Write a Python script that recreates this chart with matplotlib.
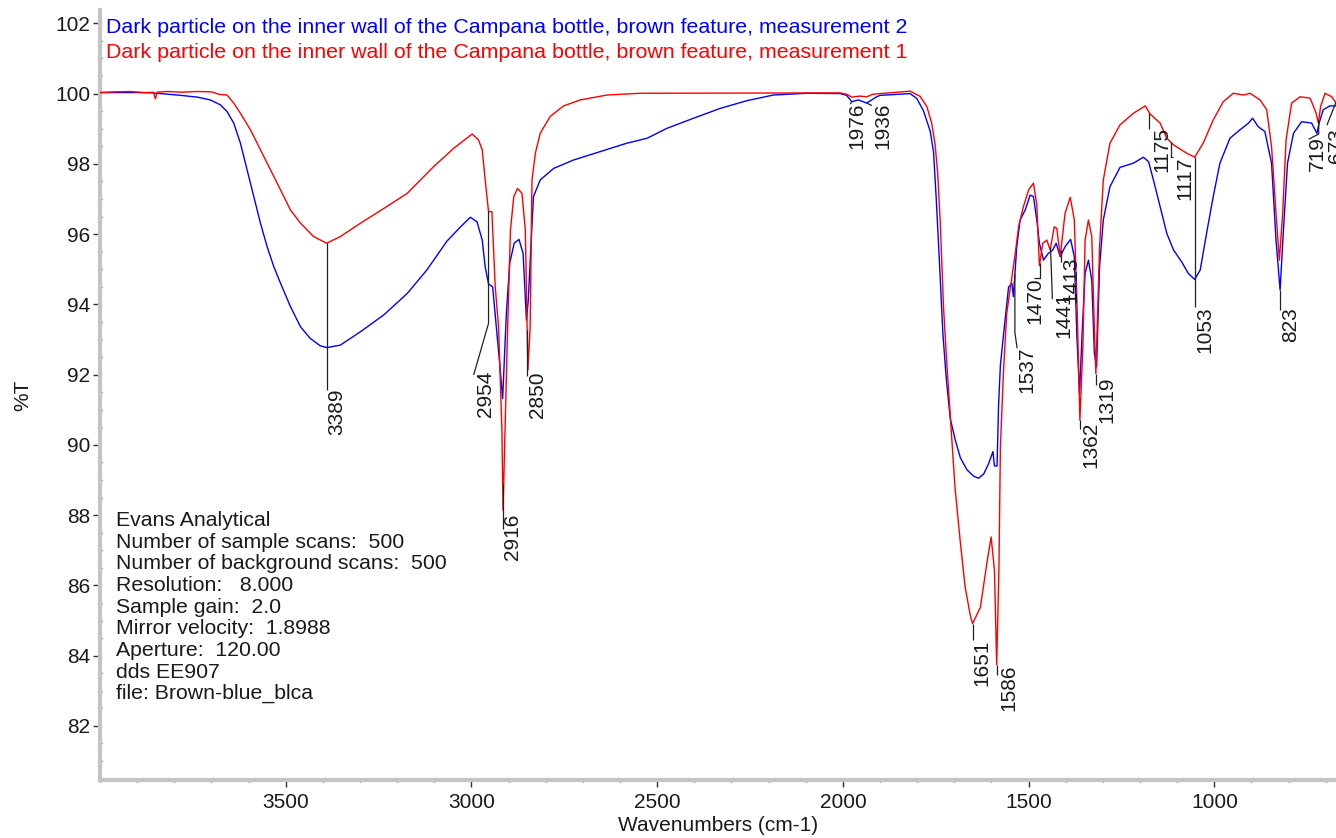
import numpy as np
import matplotlib
matplotlib.use("Agg")
import matplotlib.pyplot as plt
from matplotlib.ticker import MultipleLocator, FixedLocator

plt.rcParams['font.family'] = ['Liberation Sans', 'DejaVu Sans']

# ---- spectrum: measurement 2 (blue) ----
m2_wn = [4000, 3900, 3860, 3792, 3738, 3703, 3676, 3658, 3640, 3622, 3604, 3586,
         3568, 3550, 3532, 3514, 3487, 3460, 3434, 3407, 3389, 3353, 3299, 3236,
         3173, 3120, 3066, 3030, 3003, 2985, 2971, 2963, 2954, 2943, 2933, 2924,
         2916, 2906, 2897, 2885, 2872, 2861, 2852, 2847, 2840, 2833, 2815, 2779,
         2725, 2653, 2581, 2527, 2474, 2402, 2330, 2258, 2187, 2097, 2007, 1990,
         1976, 1958, 1936, 1909, 1900, 1819, 1801, 1783, 1765, 1756, 1749, 1740,
         1731, 1722, 1711, 1698, 1684, 1666, 1648, 1635, 1621, 1608, 1596, 1592,
         1585, 1581, 1576, 1567, 1554, 1545, 1541, 1532, 1523, 1509, 1496, 1487,
         1478, 1471, 1460, 1447, 1435, 1426, 1415, 1402, 1387, 1377, 1370, 1363,
         1356, 1348, 1339, 1330, 1323, 1317, 1309, 1299, 1281, 1254, 1218, 1191,
         1177, 1164, 1146, 1128, 1110, 1088, 1070, 1053, 1038, 1021, 1003, 985,
         958, 931, 908, 897, 882, 864, 846, 834, 823, 814, 803, 787, 765, 738,
         724, 718, 707, 689, 672]
m2_t = [100.03, 100.03, 100.02, 99.96, 99.90, 99.82, 99.68, 99.49, 99.16, 98.59, 97.83, 97.07,
        96.31, 95.64, 95.07, 94.60, 93.93, 93.36, 93.03, 92.82, 92.77, 92.84, 93.22, 93.70,
        94.31, 94.98, 95.80, 96.20, 96.48, 96.35, 95.83, 95.07, 94.58, 94.50, 93.36, 92.32,
        91.32, 93.74, 95.17, 95.74, 95.85, 95.45, 93.55, 94.12, 95.64, 97.07, 97.54, 97.87,
        98.11, 98.35, 98.59, 98.73, 99.01, 99.30, 99.58, 99.80, 99.96, 100.01, 100.00, 99.95,
        99.77, 99.82, 99.73, 99.91, 99.95, 100.00, 99.86, 99.51, 98.93, 98.34, 97.06, 95.19,
        93.20, 91.92, 90.75, 90.16, 89.64, 89.29, 89.11, 89.05, 89.17, 89.46, 89.81, 89.40,
        89.40, 91.10, 92.27, 93.20, 94.49, 94.60, 94.22, 95.64, 96.40, 96.69, 97.11, 97.07,
        96.40, 95.74, 95.26, 95.45, 95.55, 95.74, 95.36, 95.64, 95.85, 95.36, 93.08, 91.46,
        93.17, 94.88, 95.26, 94.69, 92.60, 92.22, 95.07, 96.40, 97.35, 97.90, 98.02, 98.19,
        98.06, 97.54, 96.78, 96.02, 95.55, 95.21, 94.88, 94.71, 94.98, 96.02, 97.07, 98.02,
        98.73, 98.97, 99.16, 99.30, 99.06, 98.92, 98.02, 95.83, 94.41, 96.12, 98.02, 98.87,
        99.20, 99.16, 98.87, 99.16, 99.54, 99.65, 99.65]

# ---- spectrum: measurement 1 (red) ----
m1_wn = [4000, 3960, 3920, 3880, 3856, 3851, 3846, 3820, 3780, 3740, 3700, 3680,
         3658, 3640, 3622, 3595, 3568, 3541, 3514, 3487, 3460, 3425, 3390, 3353,
         3299, 3236, 3173, 3102, 3048, 2998, 2981, 2971, 2963, 2954, 2945, 2936,
         2927, 2918, 2915, 2904, 2895, 2886, 2876, 2864, 2855, 2848, 2842, 2837,
         2828, 2815, 2788, 2752, 2707, 2635, 2545, 2007, 1990, 1976, 1955, 1935,
         1920, 1900, 1819, 1792, 1774, 1761, 1752, 1745, 1738, 1729, 1720, 1709,
         1698, 1684, 1671, 1657, 1651, 1630, 1612, 1601, 1592, 1586, 1580, 1576,
         1568, 1559, 1545, 1536, 1527, 1514, 1500, 1487, 1478, 1471, 1462, 1451,
         1442, 1431, 1424, 1415, 1402, 1388, 1377, 1369, 1362, 1354, 1348, 1339,
         1330, 1323, 1319, 1309, 1299, 1281, 1254, 1218, 1186, 1173, 1146, 1128,
         1110, 1074, 1053, 1030, 1003, 976, 949, 922, 904, 877, 859, 846, 834, 825,
         816, 807, 792, 769, 742, 726, 720, 714, 702, 684, 672]
m1_t = [100.03, 100.05, 100.06, 100.03, 100.04, 99.85, 100.04, 100.06, 100.04, 100.06, 100.05, 99.98,
        99.96, 99.73, 99.44, 98.97, 98.40, 97.83, 97.26, 96.68, 96.31, 95.93, 95.74, 95.93,
        96.31, 96.73, 97.16, 97.92, 98.44, 98.85, 98.68, 98.40, 97.54, 96.64, 96.64, 94.50,
        93.36, 90.42, 88.14, 92.79, 96.12, 97.07, 97.30, 97.16, 96.12, 92.13, 93.36, 97.54,
        98.30, 98.87, 99.35, 99.65, 99.82, 99.96, 100.01, 100.02, 99.98, 99.90, 99.93, 99.91,
        99.98, 100.00, 100.07, 99.92, 99.63, 99.16, 98.57, 97.76, 96.36, 93.90, 92.27, 90.51,
        88.76, 87.24, 85.96, 85.14, 84.91, 85.37, 86.66, 87.38, 86.43, 83.74, 86.43, 89.93,
        92.03, 93.74, 94.79, 95.45, 96.21, 96.78, 97.26, 97.45, 96.83, 95.10, 95.74, 95.83,
        95.55, 96.21, 96.16, 95.36, 96.59, 97.05, 96.40, 93.74, 90.70, 92.79, 95.83, 96.40,
        95.93, 93.27, 92.03, 95.64, 97.54, 98.59, 99.11, 99.44, 99.65, 99.42, 99.16, 98.73,
        98.54, 98.30, 98.19, 98.59, 99.25, 99.77, 100.01, 99.96, 100.01, 99.82, 99.54, 98.49, 96.59, 95.26,
        96.59, 98.68, 99.73, 99.91, 99.87, 99.44, 99.16, 99.63, 100.01, 99.91, 99.73]

# ---- axis ticks ----
x_major_ticks = [3500, 3000, 2500, 2000, 1500, 1000]
y_major_ticks = [82, 84, 86, 88, 90, 92, 94, 96, 98, 100, 102]

# ---- peak picks ----
peak_labels = [3389, 2954, 2916, 2850, 1976, 1936, 1651, 1586, 1537, 1470,
               1441, 1413, 1362, 1319, 1175, 1117, 1053, 823, 719, 673]
peak_source = ['m1', 'm1', 'm1', 'm1', 'm2', 'm2', 'm1', 'm1', 'm2', 'm1',
               'm1', 'm1', 'm1', 'm1', 'm1', 'm1', 'm1', 'm2', 'm1', 'm1']

series_names = ["Dark particle on the inner wall of the Campana bottle, brown feature, measurement 2",
                "Dark particle on the inner wall of the Campana bottle, brown feature, measurement 1"]

info_lines = ["Evans Analytical",
              "Number of sample scans:  500",
              "Number of background scans:  500",
              "Resolution:   8.000",
              "Sample gain:  2.0",
              "Mirror velocity:  1.8988",
              "Aperture:  120.00",
              "dds EE907",
              "file: Brown-blue_blca"]

# label placement: bend level, leader end (wn, %T), text top-left corner (wn, %T)
label_layout = {
    3389: (None, (3389, 91.55), (3389, 91.60)),
    2954: (93.46, (2994, 91.99), (2988, 92.10)),
    2916: (None, (2916, 87.60), (2914, 88.05)),
    2850: (None, (2850, 91.95), (2849, 92.10)),
    1976: (None, (1980, 99.70), (1988, 99.74)),
    1936: (None, (1922, 99.66), (1919, 99.76)),
    1651: (None, (1651, 84.44), (1651, 84.46)),
    1586: (None, (1586, 83.45), (1580, 83.76)),
    1537: (93.20, (1531, 92.75), (1529, 92.80)),
    1470: (94.74, (1485, 94.74), (1509, 94.78)),
    1441: (None, (1436, 94.15), (1431, 94.38)),
    1413: (None, (1413, 95.22), (1412, 95.36)),
    1362: (None, (1362, 90.45), (1357, 90.66)),
    1319: (None, (1319, 91.70), (1316, 91.95)),
    1175: (None, (1175, 99.00), (1168, 99.05)),
    1117: (98.20, (1110, 98.20), (1105, 98.20)),
    1053: (None, (1053, 93.93), (1052, 93.93)),
    823:  (None, (823, 93.84), (821, 93.92)),
    719:  (98.85, (746, 98.70), (747, 98.80)),
    673:  (None, (697, 99.10), (698, 99.03)),
}

W, H = 1336, 838
fig = plt.figure(figsize=(W / 100, H / 100), dpi=100)
ax = fig.add_axes([100 / W, 58 / H, 1236 / W, 770 / H])

ax.plot(m2_wn, m2_t, color='#0000ff', lw=1.0, zorder=3)
ax.plot(m1_wn, m1_t, color='#ff0000', lw=1.0, zorder=4)

ax.set_xlim(4000, 672.5)
ax.set_ylim(80.46, 102.38)

ax.xaxis.set_major_locator(FixedLocator(x_major_ticks))
ax.xaxis.set_minor_locator(MultipleLocator(100))
ax.yaxis.set_major_locator(FixedLocator(y_major_ticks))
ax.yaxis.set_minor_locator(MultipleLocator(0.5))

for side in ('top', 'right'):
    ax.spines[side].set_visible(False)
for side in ('left', 'bottom'):
    ax.spines[side].set_color('#c4c4c4')
    ax.spines[side].set_linewidth(3.0)

ax.tick_params(which='major', direction='out', length=5, width=1.0,
               color='#303030', labelsize=15, labelcolor='#1a1a1a', pad=2)
ax.tick_params(which='minor', direction='inout', length=3.5, width=1.0, color='#303030')
ax.tick_params(axis='x', which='major', pad=4)

ax.set_xlabel("Wavenumbers (cm-1)", fontsize=15, color='#1a1a1a', labelpad=3)
ax.set_ylabel("%T", fontsize=15, color='#1a1a1a')
ax.yaxis.set_label_coords(-68 / 1236, 0.5)

# series captions
for i, (name, col) in enumerate(zip(series_names, ['#0000ff', '#ff0000'])):
    ax.annotate(name, xy=(0, 1), xycoords='axes fraction',
                xytext=(4, -16.5 - i * 18.2), textcoords='offset points',
                ha='left', va='baseline', fontsize=15.4, color=col)

# acquisition details
for i, line in enumerate(info_lines):
    ax.annotate(line, xy=(0, 0), xycoords='axes fraction',
                xytext=(11.5, 183 - i * 15.6), textcoords='offset points',
                ha='left', va='baseline', fontsize=15.3, color='#1a1a1a')

# peak picks with leader lines
src = {'m1': (np.array(m1_wn[::-1]), np.array(m1_t[::-1])),
       'm2': (np.array(m2_wn[::-1]), np.array(m2_t[::-1]))}
for pk, s in zip(peak_labels, peak_source):
    xs, ys = src[s]
    y0 = float(np.interp(pk, xs, ys))
    bend, (lx, ly), (tx, ty) = label_layout[pk]
    px = [pk]
    py = [y0]
    if bend is not None:
        px.append(pk)
        py.append(bend)
    px.append(lx)
    py.append(ly)
    ax.plot(px, py, color='#202020', lw=0.9, zorder=5, solid_capstyle='butt')
    ax.text(tx, ty, str(pk), rotation=90, ha='left', va='top', fontsize=15,
            color='#1a1a1a', zorder=6, clip_on=False)

fig.savefig("out.png", dpi=100)
